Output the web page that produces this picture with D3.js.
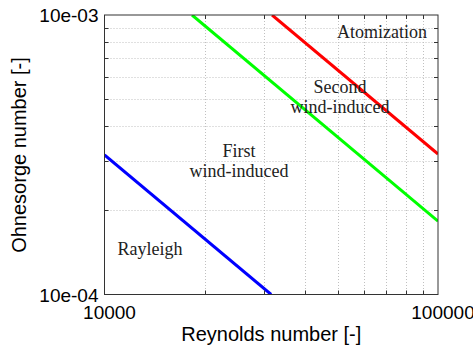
<!DOCTYPE html>
<html>
<head>
<meta charset="utf-8">
<script src="https://cdn.jsdelivr.net/npm/d3@7"></script>
<style>
  body { margin: 0; background: #fff; }
  svg { display: block; }
</style>
</head>
<body>
<div id="chart"></div>
<script>
(function() {
    // Regime boundaries (Reynolds, Ohnesorge)
    var rayleighLine = [[10000, 3.16e-4], [31600, 1.0e-4]];
    var firstWindLine = [[18300, 1.0e-3], [100000, 1.83e-4]];
    var secondWindLine = [[31800, 1.0e-3], [100000, 3.18e-4]];
    var lineColors = ['#0000ff', '#00ff00', '#ff0000'];

    var xTicks = [10000, 100000];
    var xTickLabels = ['10000', '100000'];
    var yTicks = [1e-4, 1e-3];
    var yTickLabels = ['10e-04', '10e-03'];

    // Region labels: [Re, Oh, text lines]
    var regionLabels = [
        { re: 67900, oh: 8.27e-4, lines: ['Atomization'] },
        { re: 50800, oh: 5.26e-4, lines: ['Second', 'wind-induced'] },
        { re: 25300, oh: 3.1e-4, lines: ['First', 'wind-induced'] },
        { re: 13700, oh: 1.384e-4, lines: ['Rayleigh'] }
    ];

    var width = 473;
    var height = 350;
    var margin = { top: 15, right: 35, bottom: 55.5, left: 104.5 };

    var svg = d3.select('#chart')
        .append('svg')
        .attr('width', width)
        .attr('height', height);

    var xScale = d3.scaleLog()
        .domain([10000, 100000])
        .range([margin.left, width - margin.right]);

    var yScale = d3.scaleLog()
        .domain([1e-4, 1e-3])
        .range([height - margin.bottom, margin.top]);

    var x0 = margin.left, x1 = width - margin.right;
    var y0 = margin.top, y1 = height - margin.bottom;

    // minor tick values (2..9 per decade)
    var xMinor = d3.range(2, 10).map(d => d * 10000);
    var yMinor = d3.range(2, 10).map(d => d * 1e-4);

    // Grid lines
    var grid = svg.append('g')
        .attr('stroke', '#c0c0c0')
        .attr('stroke-width', 1)
        .attr('stroke-dasharray', '1,2');

    grid.selectAll('line.vx')
        .data(xMinor)
        .enter()
        .append('line')
        .attr('x1', d => Math.round(xScale(d)) + 0.5)
        .attr('x2', d => Math.round(xScale(d)) + 0.5)
        .attr('y1', y0)
        .attr('y2', y1);

    grid.selectAll('line.hy')
        .data(yMinor)
        .enter()
        .append('line')
        .attr('y1', d => Math.round(yScale(d)) + 0.5)
        .attr('y2', d => Math.round(yScale(d)) + 0.5)
        .attr('x1', x0)
        .attr('x2', x1);

    // Clip for the lines
    svg.append('clipPath')
        .attr('id', 'plotclip')
        .append('rect')
        .attr('x', x0)
        .attr('y', y0)
        .attr('width', x1 - x0)
        .attr('height', y1 - y0);

    var line = d3.line()
        .x(d => xScale(d[0]))
        .y(d => yScale(d[1]));

    svg.append('g')
        .attr('clip-path', 'url(#plotclip)')
        .selectAll('path')
        .data([rayleighLine, firstWindLine, secondWindLine])
        .enter()
        .append('path')
        .attr('d', line)
        .attr('fill', 'none')
        .attr('stroke', (d, i) => lineColors[i])
        .attr('stroke-width', 3);

    // Minor ticks, inward on all four sides
    var tickLen = 4;
    var ticks = svg.append('g')
        .attr('stroke', '#333')
        .attr('stroke-width', 1);

    xMinor.forEach(function(v) {
        var x = Math.round(xScale(v)) + 0.5;
        ticks.append('line').attr('x1', x).attr('x2', x).attr('y1', y1).attr('y2', y1 - tickLen);
        ticks.append('line').attr('x1', x).attr('x2', x).attr('y1', y0).attr('y2', y0 + tickLen);
    });
    yMinor.forEach(function(v) {
        var y = Math.round(yScale(v)) + 0.5;
        ticks.append('line').attr('y1', y).attr('y2', y).attr('x1', x0).attr('x2', x0 + tickLen);
        ticks.append('line').attr('y1', y).attr('y2', y).attr('x1', x1).attr('x2', x1 - tickLen);
    });

    // Frame
    svg.append('rect')
        .attr('x', x0)
        .attr('y', y0)
        .attr('width', x1 - x0)
        .attr('height', y1 - y0)
        .attr('fill', 'none')
        .attr('stroke', '#333')
        .attr('stroke-width', 1);

    // Tick labels
    svg.append('g')
        .selectAll('text')
        .data(xTicks)
        .enter()
        .append('text')
        .attr('x', d => xScale(d) + 5)
        .attr('y', y1 + 24)
        .attr('text-anchor', 'middle')
        .style('font-family', 'Liberation Sans, Arial, sans-serif')
        .style('font-size', '19px')
        .text((d, i) => xTickLabels[i]);

    svg.append('g')
        .selectAll('text')
        .data(yTicks)
        .enter()
        .append('text')
        .attr('x', x0 - 6)
        .attr('y', d => yScale(d) + 7)
        .attr('text-anchor', 'end')
        .style('font-family', 'Liberation Sans, Arial, sans-serif')
        .style('font-size', '19px')
        .text((d, i) => yTickLabels[i]);

    // Region labels
    regionLabels.forEach(function(r) {
        var t = svg.append('text')
            .attr('text-anchor', 'middle')
            .style('font-family', 'Liberation Serif, serif')
            .style('font-size', '18px')
            .attr('fill', '#222');
        r.lines.forEach(function(s, i) {
            t.append('tspan')
                .attr('x', xScale(r.re))
                .attr('y', yScale(r.oh) + i * 20)
                .text(s);
        });
    });

    // Axis labels
    svg.append('text')
        .attr('x', (x0 + x1) / 2)
        .attr('y', 341)
        .attr('text-anchor', 'middle')
        .style('font-family', 'Liberation Sans, Arial, sans-serif')
        .style('font-size', '20px')
        .text('Reynolds number [-]');

    svg.append('text')
        .attr('transform', 'rotate(-90)')
        .attr('x', -155)
        .attr('y', 26)
        .attr('text-anchor', 'middle')
        .style('font-family', 'Liberation Sans, Arial, sans-serif')
        .style('font-size', '20px')
        .text('Ohnesorge number [-]');
})();
</script>
</body>
</html>
